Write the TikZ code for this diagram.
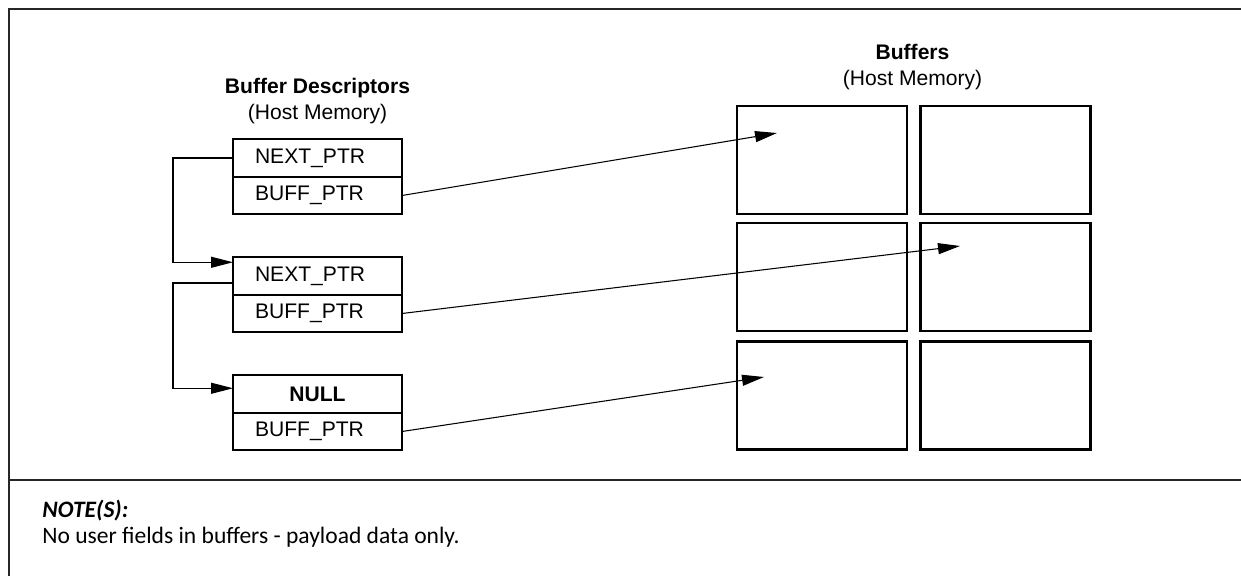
\documentclass[tikz,border=0pt]{standalone}
\usepackage{fontspec}
\setmainfont{Liberation Sans}
\newfontfamily\notefont{Carlito}
\usetikzlibrary{positioning, arrows.meta, calc}

\begin{document}
\begin{tikzpicture}[x=0.02cm, y=-0.02cm,
    field/.style={draw, line width=1.1pt, minimum width=3.38cm, minimum height=0.75cm,
      text width=2.5cm, align=left, inner sep=0pt, outer sep=0pt, font=\fontsize{12}{14}\selectfont},
    bufbox/.style={draw, line width=1.3pt, minimum width=3.4cm, minimum height=2.16cm, inner sep=0pt},
    title/.style={font=\fontsize{12}{14}\selectfont\bfseries},
    subtitle/.style={font=\fontsize{12}{14}\selectfont},
    note/.style={anchor=west, inner sep=0pt, font=\notefont\fontsize{13.4}{15}\selectfont},
    link/.style={line width=0.6pt},
    ptr/.style={line width=0.6pt, -{Triangle[length=0.44cm, width=0.22cm]}}]
    \useasboundingbox (0,0) rectangle (1241,576);
    % Rahmen
    \draw[line width=1.1pt, black!85] (1241,9) -- (9,9) -- (9,576);
    \draw[line width=0.8pt, black!85] (9,480) -- (1241,480);
    % Titel
    \node[title] (desctitle) at (317.5,88) {Buffer Descriptors};
    \node[subtitle] (descmem) at (317.5,114) {(Host Memory)};
    \node[title] (buftitle) at (912.5,52) {Buffers};
    \node[subtitle] (bufmem) at (912.5,80) {(Host Memory)};
    % Deskriptoren
    \node[field] (next1) at (317.5,158) {NEXT\_PTR};
    \node[field, below=0pt of next1] (buff1) {BUFF\_PTR};
    \node[field] (next2) at (317.5,276) {NEXT\_PTR};
    \node[field, below=0pt of next2] (buff2) {BUFF\_PTR};
    \node[field, align=center] (next3) at (317.5,394) {\textbf{NULL}};
    \node[field, below=0pt of next3] (buff3) {BUFF\_PTR};
    % Puffer (3 x 2)
    \foreach \row/\y in {1/160,2/277,3/395.5}
      \foreach \col/\x in {1/822,2/1005.5}
        \node[bufbox] (buf\row\col) at (\x,\y) {};
    % Verkettung der Deskriptoren
    \draw[link, -{Triangle[length=0.44cm, width=0.22cm]}]
      (next1.west) -- ++(-60,0) |- ([yshift=-0.1cm]next2.north west);
    \draw[link, -{Triangle[length=0.44cm, width=0.22cm]}]
      ([yshift=-0.14cm]next2.west) -- ++(-60,0) |- ([yshift=-0.26cm]next3.north west);
    % Zeiger auf Puffer
    \coordinate (tip1) at (777,133);
    \coordinate (tip2) at (960,246);
    \coordinate (tip3) at (764,377);
    \draw[ptr] (buff1.east) -- (tip1);
    \draw[ptr] (buff2.east) -- (tip2);
    \draw[ptr] (buff3.east) -- (tip3);
    % Hinweis
    \node[note, font=\notefont\fontsize{13.4}{15}\selectfont\bfseries\itshape] (notehead) at (42,511) {NOTE(S):};
    \node[note] (notetext) at (42,537) {No user fields in buffers - payload data only.};
\end{tikzpicture}
\end{document}
